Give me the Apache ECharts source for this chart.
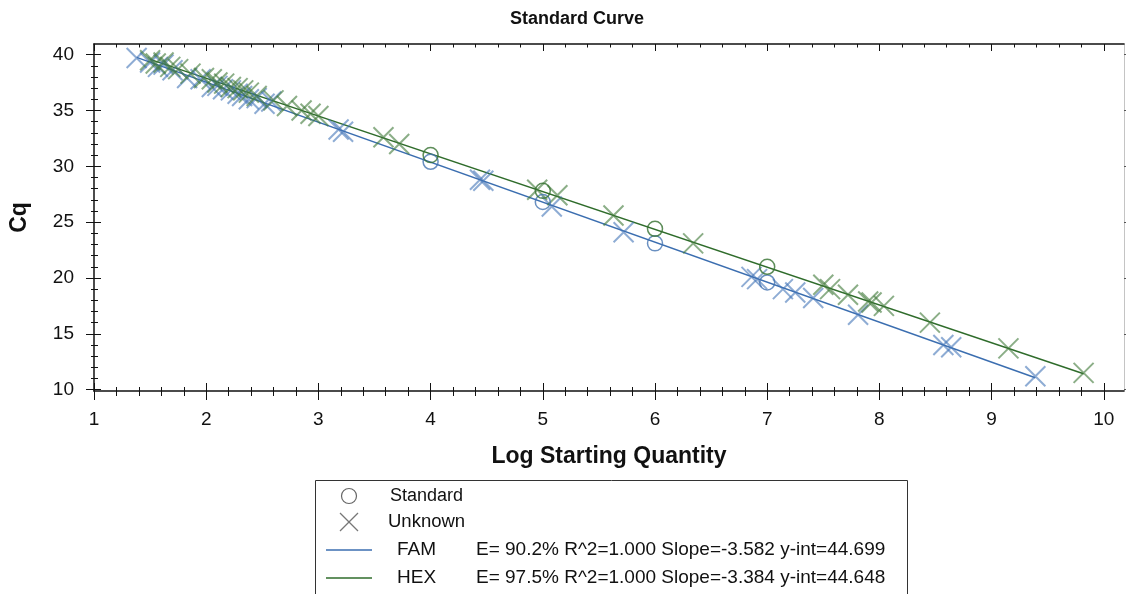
<!DOCTYPE html>
<html>
<head>
<meta charset="utf-8">
<script src="https://cdn.jsdelivr.net/npm/echarts@6/dist/echarts.min.js"></script>
<style>
html, body { margin: 0; padding: 0; background: #fff; }
#chart { width: 1126px; height: 594px; }
</style>
</head>
<body>
<div id="chart"></div>
<script>
// Fit statistics per dye
const dyes = ['FAM', 'HEX'];
const efficiency = [90.2, 97.5];
const rSquared = [1.000, 1.000];
const slopes = [-3.582, -3.384];
const intercepts = [44.699, 44.648];

// Standards (log starting quantity, Cq)
const famStdLog = [4, 5, 6, 7];
const famStdCq = [30.4, 26.8, 23.1, 19.6];
const hexStdLog = [4, 5, 6, 7];
const hexStdCq = [31.0, 27.8, 24.4, 21.0];

// Unknowns (log starting quantity, Cq)
const famUnkLog = [1.38, 1.50, 1.57, 1.62, 1.70, 1.83, 1.95, 2.05, 2.10, 2.15, 2.22, 2.28, 2.32, 2.38, 2.45, 2.52, 2.58,
  3.18, 3.22, 4.44, 4.47, 5.08, 5.72, 6.86, 6.91, 7.14, 7.25, 7.41, 7.81, 8.57, 8.64, 9.39];
const famUnkCq = [39.7, 39.3, 38.9, 39.1, 38.6, 37.9, 37.8, 37.1, 37.2, 36.9, 36.8, 36.5, 36.3, 36.0, 36.1, 35.6, 35.8,
  33.3, 33.1, 28.8, 28.7, 26.4, 24.1, 20.1, 19.9, 19.0, 18.7, 18.2, 16.7, 14.0, 13.8, 11.2];
const hexUnkLog = [1.50, 1.55, 1.62, 1.68, 1.75, 1.86, 1.98, 2.05, 2.10, 2.16, 2.22, 2.28, 2.33, 2.38, 2.45, 2.60, 2.72,
  2.85, 2.93, 3.00, 3.58, 3.72, 4.95, 5.13, 5.63, 6.34, 7.50, 7.56, 7.72, 7.90, 7.93, 8.04, 8.45, 9.15, 9.82];
const hexUnkCq = [39.5, 39.2, 39.3, 38.9, 38.7, 38.3, 37.9, 37.8, 37.5, 37.4, 37.1, 37.0, 36.8, 36.6, 36.3, 35.9, 35.4,
  35.0, 34.7, 34.5, 32.6, 32.0, 27.9, 27.4, 25.6, 23.1, 19.4, 19.0, 18.5, 17.9, 17.8, 17.5, 16.0, 13.7, 11.5];

// Axis ticks
const xTicks = [1, 2, 3, 4, 5, 6, 7, 8, 9, 10];
const yTicks = [10, 15, 20, 25, 30, 35, 40];

const X_MIN = 1, X_MAX = 10.18, Y_MIN = 9.88, Y_MAX = 40.95;

const xMinor = [];
for (let i = 0; i < xTicks.length - 1; i++) for (let k = 1; k < 5; k++) xMinor.push(+(xTicks[i] + k * 0.2).toFixed(2));
const yMinor = [];
for (let i = 0; i < yTicks.length - 1; i++) for (let k = 1; k < 5; k++) yMinor.push(yTicks[i] + k);

const lineColors = ['#3b6eb0', '#2f6c2b'];
const crossColors = ['rgba(66,116,184,0.75)', 'rgba(62,120,55,0.75)'];
const circleColors = ['#4574b2', '#35702f'];
const CROSS = 'path://M0,0L20,20M20,0L0,20';

const pairs = (xs, ys) => xs.map((x, i) => [x, ys[i]]);

// Regression lines spanning each dye's data range
function fitLine(d, xs) {
  const lo = Math.min(...xs), hi = Math.max(...xs);
  return [[lo, slopes[d] * lo + intercepts[d]], [hi, slopes[d] * hi + intercepts[d]]];
}

const font = 'Liberation Sans, Arial, sans-serif';

function tickAxis(kind, pos, values, len, inside, opts) {
  const base = {
    type: 'value', position: pos, min: kind === 'x' ? X_MIN : Y_MIN, max: kind === 'x' ? X_MAX : Y_MAX,
    axisLine: { show: false }, splitLine: { show: false }, axisLabel: { show: false },
    axisTick: { show: true, inside: inside, length: len, customValues: values,
      lineStyle: { color: '#111', width: 1 } },
    silent: true
  };
  return Object.assign(base, opts || {});
}

const famAll = famStdLog.concat(famUnkLog);
const hexAll = hexStdLog.concat(hexUnkLog);

const option = {
  backgroundColor: '#fff',
  animation: false,
  title: {
    text: 'Standard Curve', left: 577, top: 10, padding: 0, textAlign: 'center',
    textStyle: { fontFamily: font, fontSize: 18, fontWeight: 'bold', color: '#111' }
  },
  grid: { left: 93, right: 2, top: 44, bottom: 203, containLabel: false },
  xAxis: [
    {
      type: 'value', position: 'bottom', min: X_MIN, max: X_MAX,
      name: 'Log Starting Quantity', nameLocation: 'middle', nameGap: 54,
      nameTextStyle: { fontFamily: font, fontSize: 23, fontWeight: 'bold', color: '#111' },
      axisLine: { show: true, onZero: false, lineStyle: { color: '#111', width: 1.5 } },
      axisTick: { show: true, length: 9, customValues: xTicks, lineStyle: { color: '#111' } },
      axisLabel: { customValues: xTicks, margin: 19, fontFamily: font, fontSize: 19, color: '#111' },
      splitLine: { show: false }
    },
    tickAxis('x', 'bottom', xTicks, 8, true),
    tickAxis('x', 'bottom', xMinor, 5, false),
    tickAxis('x', 'bottom', xMinor, 4, true),
    tickAxis('x', 'top', xTicks, 7, true, { axisLine: { show: true, onZero: false, lineStyle: { color: '#111', width: 1.5 } } }),
    tickAxis('x', 'top', xMinor, 3.5, true)
  ],
  yAxis: [
    {
      type: 'value', position: 'left', min: Y_MIN, max: Y_MAX,
      name: 'Cq', nameLocation: 'middle', nameGap: 63,
      nameTextStyle: { fontFamily: font, fontSize: 23, fontWeight: 'bold', color: '#111' },
      axisLine: { show: true, onZero: false, lineStyle: { color: '#111', width: 1.5 } },
      axisTick: { show: true, length: 8, customValues: yTicks, lineStyle: { color: '#111' } },
      axisLabel: { customValues: yTicks, margin: 20, fontFamily: font, fontSize: 19, color: '#111' },
      splitLine: { show: false }
    },
    tickAxis('y', 'left', yTicks, 7, true),
    tickAxis('y', 'left', yMinor, 3, false),
    tickAxis('y', 'left', yMinor, 4, true),
    tickAxis('y', 'right', yTicks, 4, false, {
      axisLine: { show: true, onZero: false, lineStyle: { color: '#c4c4c4', width: 1 } },
      axisTick: { show: true, inside: false, length: 4, customValues: yTicks, lineStyle: { color: '#555' } }
    })
  ],
  series: [
    {
      name: dyes[0] + ' fit', type: 'line', data: fitLine(0, famAll), symbol: 'none', silent: true,
      lineStyle: { color: lineColors[0], width: 1.5 }, z: 2
    },
    {
      name: dyes[1] + ' fit', type: 'line', data: fitLine(1, hexAll), symbol: 'none', silent: true,
      lineStyle: { color: lineColors[1], width: 1.5 }, z: 2
    },
    {
      name: dyes[0] + ' Unknown', type: 'scatter', data: pairs(famUnkLog, famUnkCq), symbol: CROSS, symbolSize: 20,
      itemStyle: { color: 'transparent', borderColor: crossColors[0], borderWidth: 2 }, silent: true, z: 3
    },
    {
      name: dyes[1] + ' Unknown', type: 'scatter', data: pairs(hexUnkLog, hexUnkCq), symbol: CROSS, symbolSize: 20,
      itemStyle: { color: 'transparent', borderColor: crossColors[1], borderWidth: 2 }, silent: true, z: 3
    },
    {
      name: dyes[0] + ' Standard', type: 'scatter', data: pairs(famStdLog, famStdCq), symbol: 'circle', symbolSize: 15,
      itemStyle: { color: 'transparent', borderColor: circleColors[0], borderWidth: 1.5 }, silent: true, z: 4
    },
    {
      name: dyes[1] + ' Standard', type: 'scatter', data: pairs(hexStdLog, hexStdCq), symbol: 'circle', symbolSize: 15,
      itemStyle: { color: 'transparent', borderColor: circleColors[1], borderWidth: 1.5 }, silent: true, z: 4
    }
  ],
  graphic: [
    // Legend box
    { type: 'rect', left: 315, top: 480, shape: { width: 592, height: 130 },
      style: { fill: '#fff', stroke: '#333', lineWidth: 1 }, silent: true, z: 10 },
    { type: 'circle', shape: { cx: 349, cy: 496, r: 7.5 }, style: { fill: 'none', stroke: '#666', lineWidth: 1.2 }, silent: true, z: 11 },
    { type: 'polyline', shape: { points: [[340, 513], [358, 531]] }, style: { stroke: '#777', lineWidth: 1.2 }, silent: true, z: 11 },
    { type: 'polyline', shape: { points: [[358, 513], [340, 531]] }, style: { stroke: '#777', lineWidth: 1.2 }, silent: true, z: 11 },
    { type: 'text', x: 390, y: 496, style: { text: 'Standard', font: '18px ' + font, fill: '#111', verticalAlign: 'middle' }, silent: true, z: 11 },
    { type: 'text', x: 388, y: 522, style: { text: 'Unknown', font: '18.5px ' + font, fill: '#111', verticalAlign: 'middle' }, silent: true, z: 11 }
  ].concat(dyes.flatMap((d, i) => {
    const y = 550 + i * 28;
    const stats = 'E= ' + efficiency[i].toFixed(1) + '% R^2=' + rSquared[i].toFixed(3) +
      ' Slope=' + slopes[i].toFixed(3) + ' y-int=' + intercepts[i].toFixed(3);
    return [
      { type: 'line', shape: { x1: 326, y1: y, x2: 372, y2: y }, style: { stroke: lineColors[i], lineWidth: 1.5 }, silent: true, z: 11 },
      { type: 'text', x: 397, y: y, style: { text: d, font: '19px ' + font, fill: '#111', verticalAlign: 'middle' }, silent: true, z: 11 },
      { type: 'text', x: 476, y: y, style: { text: stats, font: '19px ' + font, fill: '#111', verticalAlign: 'middle' }, silent: true, z: 11 }
    ];
  }))
};

const chart = echarts.init(document.getElementById('chart'), null, { renderer: 'canvas' });
chart.setOption(option);
</script>
</body>
</html>
